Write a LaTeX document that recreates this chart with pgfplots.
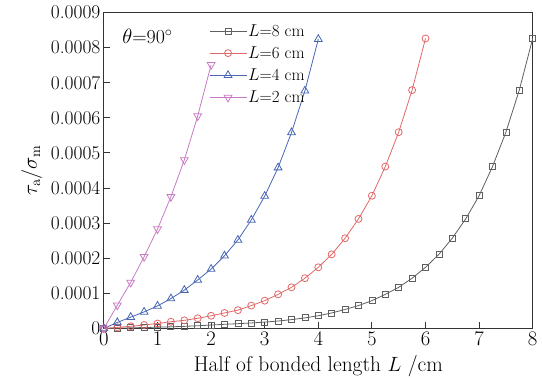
\documentclass[border=0pt]{standalone}
\usepackage{pgfplots}
\pgfplotsset{compat=1.18}
\definecolor{c8}{RGB}{95,95,95}
\definecolor{c6}{RGB}{226,104,104}
\definecolor{c4}{RGB}{72,102,180}
\definecolor{c2}{RGB}{200,122,196}
\newcommand\fsT{\fontsize{19.5}{22}\selectfont}
\newcommand\fsL{\fontsize{21.5}{24}\selectfont}
\newcommand\fsLeg{\fontsize{17}{19}\selectfont}
\newcommand\fsTh{\fontsize{20}{22}\selectfont}
\begin{document}
\begin{tikzpicture}
\begin{axis}[
  scale only axis, width=428.8bp, height=315.9bp,
  xmin=0, xmax=8, ymin=0, ymax=0.0009,
  xtick={0,1,2,3,4,5,6,7,8},
  ytick={0,0.0001,0.0002,0.0003,0.0004,0.0005,0.0006,0.0007,0.0008,0.0009},
  yticklabels={0,0.0001,0.0002,0.0003,0.0004,0.0005,0.0006,0.0007,0.0008,0.0009},
  scaled y ticks=false,
  tick align=inside, tick pos=left, major tick length=6bp,
  axis line style={line width=1.2bp, color=black!80},
  tick style={line width=1bp, color=black!80},
  ticklabel style={font=\fsT},
  xlabel={Half of bonded length $L$ /cm},
  ylabel={$\tau_{\mathrm{a}}/\sigma_{\mathrm{m}}$},
  label style={font=\fsL},
  xlabel style={yshift=-3bp},
  ylabel style={xshift=0bp, yshift=2bp},
  clip=false,
  every axis plot/.append style={line width=0.8bp, mark options={solid, line width=0.8bp, fill=white}},
  legend style={draw=none, fill=none, at={(axis description cs:0.245,0.967)}, anchor=north west,
    font=\fsLeg, row sep=6.5bp, inner sep=0pt, nodes={inner sep=1.2bp}},
  legend cell align=left,
  legend image code/.code={\draw[mark repeat=2,mark phase=2,#1] plot coordinates {(0bp,0bp) (18.5bp,0bp) (37bp,0bp)};},
]
\addplot[color=c8, mark=square, mark size=3bp] coordinates {
(0,0) (0.25,0.0000008) (0.5,0.0000016) (0.75,0.0000025) (1.0,0.0000034) (1.25,0.0000045)
(1.5,0.0000058) (1.75,0.0000075) (2.0,0.0000095) (2.25,0.0000117) (2.5,0.0000135) (2.75,0.0000155)
(3.0,0.0000180) (3.25,0.000021) (3.5,0.000025) (3.75,0.000030) (4.0,0.000036) (4.25,0.000044)
(4.5,0.000054) (4.75,0.000065) (5.0,0.000079) (5.25,0.000097) (5.5,0.000117) (5.75,0.000143)
(6.0,0.000174) (6.25,0.000211) (6.5,0.000257) (6.75,0.000312) (7.0,0.000378) (7.25,0.000461)
(7.5,0.000559) (7.75,0.000679) (8.0,0.000826)};
\addlegendentry{$L$=8 cm}
\addplot[color=c6, mark=o, mark size=3.5bp] coordinates {
(0,0) (0.25,0.000003) (0.5,0.000006) (0.75,0.0000097) (1.0,0.000014) (1.25,0.000019)
(1.5,0.000023) (1.75,0.0000288) (2.0,0.000036) (2.25,0.000044) (2.5,0.000052) (2.75,0.000065)
(3.0,0.000079) (3.25,0.000097) (3.5,0.000117) (3.75,0.000143) (4.0,0.000174) (4.25,0.000211)
(4.5,0.000257) (4.75,0.000312) (5.0,0.000378) (5.25,0.000461) (5.5,0.000559) (5.75,0.000679)
(6.0,0.000826)};
\addlegendentry{$L$=6 cm}
\addplot[color=c4, mark=triangle, mark size=4.5bp] coordinates {
(0,0) (0.25,0.000017) (0.5,0.000032) (0.75,0.000047) (1.0,0.000064) (1.25,0.000085)
(1.5,0.000109) (1.75,0.000138) (2.0,0.000169) (2.25,0.000207) (2.5,0.000252) (2.75,0.000309)
(3.0,0.000377) (3.25,0.000458) (3.5,0.000558) (3.75,0.000677) (4.0,0.000824)};
\addlegendentry{$L$=4 cm}
\addplot[color=c2, mark=triangle, mark size=4.5bp, mark options={rotate=180}] coordinates {
(0,0) (0.25,0.000066) (0.5,0.000131) (0.75,0.000204) (1.0,0.000283) (1.25,0.000375)
(1.5,0.000480) (1.75,0.000605) (2.0,0.000751)};
\addlegendentry{$L$=2 cm}
\node[font=\fsTh] at (axis description cs:0.1017,0.923) {$\theta$=90$^{\circ}$};
\end{axis}
\pgfresetboundingbox
\useasboundingbox (-103.9bp,-50.6bp) rectangle (438.1bp,328.4bp);
\end{tikzpicture}
\end{document}
